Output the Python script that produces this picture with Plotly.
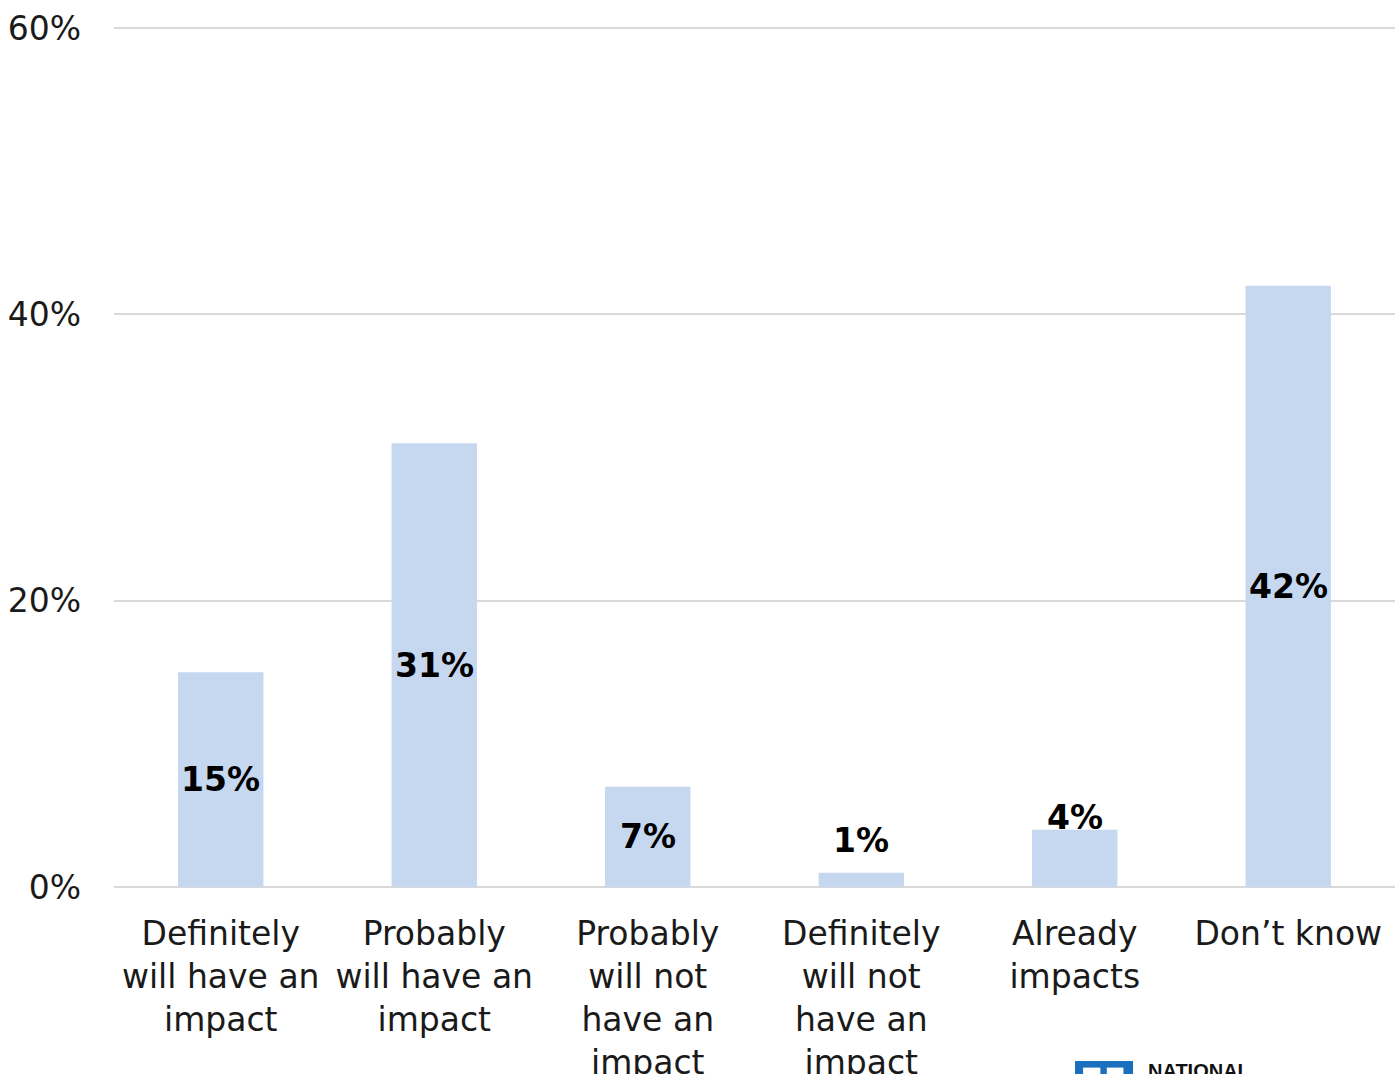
import plotly.graph_objects as go

# Survey responses
categories = [
    "Definitely<br>will have an<br>impact",
    "Probably<br>will have an<br>impact",
    "Probably<br>will not<br>have an<br>impact",
    "Definitely<br>will not<br>have an<br>impact",
    "Already<br>impacts",
    "Don\u2019t know",
]
values = [15, 31, 7, 1, 4, 42]
value_labels = ["15%", "31%", "7%", "1%", "4%", "42%"]

# label placement: "mid" = centred inside the bar, otherwise pixel lift above the bar top
label_place = ["mid", "mid", "mid", 26, 6, "mid"]

y_ticks = [0, 20, 40, 60]
y_tick_text = ["0%", "20%", "40%", "60%"]

BAR = "#C6D7F0"
GRID = "#D9D9D9"
FONT = "DejaVu Sans"

fig = go.Figure(
    go.Bar(
        x=categories,
        y=values,
        marker=dict(color=BAR, line=dict(width=0)),
        width=0.4,
        hoverinfo="skip",
    )
)

for cat, v, txt, place in zip(categories, values, value_labels, label_place):
    if place == "mid":
        fig.add_annotation(x=cat, y=v / 2, text=f"<b>{txt}</b>", showarrow=False,
                           yanchor="middle", xref="x", yref="y",
                           font=dict(family=FONT, size=33, color="#000000"))
    else:
        fig.add_annotation(x=cat, y=v, text=f"<b>{txt}</b>", showarrow=False,
                           yanchor="bottom", yshift=place - 15, xref="x", yref="y",
                           font=dict(family=FONT, size=33, color="#000000"))

# partially visible logo at the bottom edge
fig.add_shape(type="rect", xref="paper", yref="paper",
              x0=0.7502, x1=0.7955, y0=-0.2023, y1=-0.26,
              fillcolor="#1A6FBF", line=dict(width=0), layer="above")
fig.add_shape(type="rect", xref="paper", yref="paper",
              x0=0.7565, x1=0.7700, y0=-0.2100, y1=-0.26,
              fillcolor="#FFFFFF", line=dict(width=0), layer="above")
fig.add_shape(type="rect", xref="paper", yref="paper",
              x0=0.7750, x1=0.7880, y0=-0.2100, y1=-0.26,
              fillcolor="#FFFFFF", line=dict(width=0), layer="above")
fig.add_annotation(xref="paper", yref="paper", x=0.806, y=-0.199,
                   xanchor="left", yanchor="top", showarrow=False,
                   text="<b>NATIONAL</b>",
                   font=dict(family="Liberation Sans", size=20, color="#111111"))

fig.update_layout(
    width=1399,
    height=1074,
    margin=dict(l=114, r=4, t=27, b=187),
    paper_bgcolor="#FFFFFF",
    plot_bgcolor="#FFFFFF",
    showlegend=False,
    font=dict(family=FONT, size=33, color="#1a1a1a"),
    bargap=0.6,
)
fig.update_xaxes(
    automargin=False,
    showgrid=False,
    showline=False,
    ticks="",
    tickfont=dict(family=FONT, size=33, color="#1a1a1a"),
    ticklabelstandoff=24,
)
fig.update_yaxes(
    automargin=False,
    range=[0, 60.08],
    tickvals=y_ticks,
    ticktext=y_tick_text,
    showgrid=True,
    gridcolor=GRID,
    gridwidth=2,
    zeroline=True,
    zerolinecolor=GRID,
    zerolinewidth=2,
    showline=False,
    ticks="",
    tickfont=dict(family=FONT, size=33, color="#1a1a1a"),
    ticklabelstandoff=32,
)

fig.write_html("out.html")
